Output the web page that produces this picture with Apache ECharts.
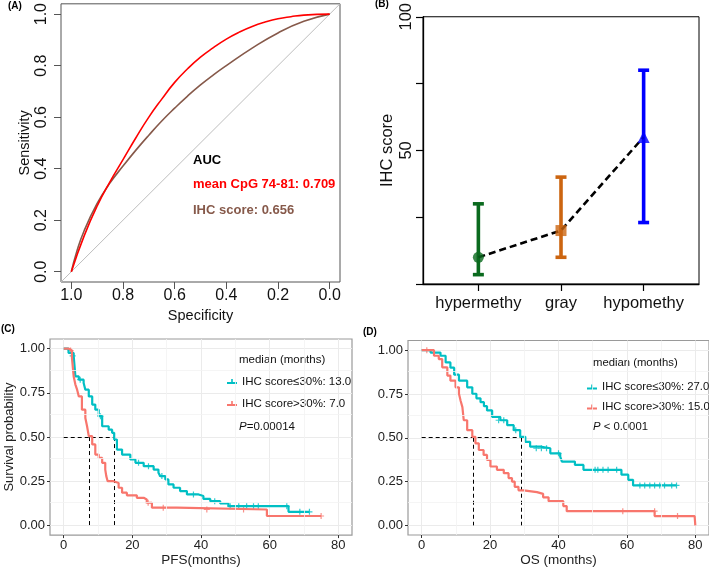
<!DOCTYPE html>
<html><head><meta charset="utf-8">
<script src="https://cdn.jsdelivr.net/npm/echarts@6/dist/echarts.min.js"></script>
<style>html,body{margin:0;padding:0;background:#fff}#c{width:709px;height:568px}</style>
</head><body><div id="c"></div>
<script>
// ---------- Panel A: ROC (specificity, sensitivity) ----------
const rocTicks = [0, 0.2, 0.4, 0.6, 0.8, 1.0];
const rocCpG = [[1,0],[0.95,0.14],[0.9,0.255],[0.85,0.35],[0.8,0.435],[0.75,0.52],[0.7,0.6],[0.65,0.67],[0.6,0.735],[0.55,0.788],[0.5,0.833],[0.45,0.87],[0.4,0.903],[0.35,0.93],[0.3,0.952],[0.25,0.969],[0.2,0.982],[0.15,0.99],[0.1,0.996],[0,1]];
const rocIHC = [[1,0],[0.98,0.075],[0.95,0.16],[0.9,0.265],[0.85,0.345],[0.8,0.41],[0.75,0.472],[0.7,0.53],[0.65,0.585],[0.6,0.635],[0.55,0.682],[0.5,0.725],[0.45,0.764],[0.4,0.8],[0.3,0.868],[0.2,0.927],[0.1,0.972],[0,1]];
const rocRef = [[1.04,-0.04],[-0.04,1.04]];
const aucTexts = ['AUC', 'mean CpG 74-81: 0.709', 'IHC score: 0.656'];

// ---------- Panel B: IHC score by group ----------
const groupsB = ['hypermethy', 'gray', 'hypomethy'];
const posB = [1, 2, 3];
const meanB = [10, 20, 55];
const lowB = [3.5, 10, 23];
const highB = [30, 40, 80];
const yTicksB = [50, 100];

// ---------- Panel C: PFS ----------
const kmTicksX = [0, 20, 40, 60, 80];
const kmTicksY = [0, 0.25, 0.5, 0.75, 1.0];
const kmMinorX = [10, 30, 50, 70];
const kmMinorY = [0.125, 0.375, 0.625, 0.875];
const namesC = ['IHC score\u226430%: 13.0', 'IHC score>30%: 7.0'];
const pfsLow = [[0,1],[1.4,0.976],[2.9,0.96],[3.4,0.843],[4.4,0.825],[5.8,0.806],[6.3,0.768],[7.3,0.73],[8.3,0.684],[9.2,0.655],[10.2,0.618],[11.2,0.561],[13.1,0.542],[14.1,0.524],[14.7,0.486],[15.5,0.429],[17,0.401],[19.4,0.373],[20.9,0.354],[23.3,0.335],[26.2,0.316],[27.6,0.298],[28.1,0.279],[29.6,0.26],[30.5,0.232],[32,0.213],[33.9,0.194],[35.9,0.175],[39.3,0.166],[40.7,0.15],[42.7,0.137],[45.6,0.124],[48,0.109],[65.5,0.077],[71.6,0.077]];
const pfsHigh = [[0,1],[1.5,0.99],[2.4,0.947],[2.9,0.843],[3.4,0.797],[3.9,0.768],[4.4,0.73],[5.3,0.655],[6.3,0.608],[6.8,0.561],[7.3,0.505],[8.3,0.458],[9.2,0.401],[10.2,0.382],[11.2,0.354],[12.1,0.316],[12.4,0.279],[12.8,0.25],[14.5,0.24],[16,0.213],[17,0.185],[18.4,0.17],[21.3,0.156],[23.3,0.147],[24.2,0.128],[25.7,0.10],[33,0.09],[59.2,0.053],[75,0.053]];
const pfsLowCens = [[2.6,0.96],[4.8,0.825],[10.7,0.618],[21.8,0.354],[24.7,0.335],[28.6,0.279],[37.8,0.175],[44,0.137],[48.5,0.109],[51,0.109],[53.3,0.109],[55.3,0.109],[56.7,0.109],[65,0.109],[68.8,0.077],[71.6,0.077]];
const pfsHighCens = [[2,0.99],[24.6,0.128],[29,0.10],[41.7,0.09],[52.4,0.09],[75,0.053]];
const pfsMedians = [7.5, 14.6];
const pText = 'P=0.00014';

// ---------- Panel D: OS ----------
const namesD = ['IHC score\u226430%: 27.0', 'IHC score>30%: 15.0'];
const osLow = [[0,1],[2.6,0.986],[5.5,0.968],[7,0.93],[8.4,0.90],[9.5,0.86],[10.9,0.826],[13.3,0.788],[14.8,0.751],[16,0.725],[17.2,0.703],[18.2,0.68],[19.1,0.656],[20.6,0.619],[23,0.60],[25,0.572],[26.9,0.543],[28.8,0.505],[30.3,0.477],[31.7,0.449],[34.7,0.44],[37.6,0.411],[40.5,0.392],[41,0.364],[44.8,0.345],[47.3,0.317],[58.4,0.289],[60.4,0.26],[61.8,0.228],[74.5,0.228]];
const osHigh = [[0,1],[1.2,1.0],[3.6,0.968],[5,0.949],[6,0.902],[7.5,0.855],[8.4,0.826],[9.9,0.788],[10.9,0.751],[11.4,0.71],[11.9,0.675],[12.3,0.60],[13.3,0.543],[14.8,0.505],[15.7,0.468],[16.7,0.43],[18.1,0.402],[19.1,0.373],[20.1,0.336],[22,0.317],[24,0.298],[25.4,0.27],[26.4,0.25],[27.2,0.22],[28.3,0.20],[29.8,0.19],[33.7,0.18],[35.5,0.16],[37.1,0.138],[41.4,0.11],[42.4,0.081],[68.1,0.053],[79.8,0.053],[80,0]];
const osLowCens = [[22.5,0.60],[24,0.60],[27.5,0.543],[33.5,0.44],[35,0.44],[36.5,0.44],[40,0.411],[50.7,0.317],[51.5,0.317],[53,0.317],[54.5,0.317],[57,0.317],[63.8,0.228],[65.2,0.228],[66.7,0.228],[68.1,0.228],[69.6,0.228],[71,0.228],[73.1,0.228],[74.5,0.228]];
const osHighCens = [[1.5,1.0],[58.8,0.081],[68.1,0.081],[74.8,0.053]];
const osMedians = [15, 29];
const pTextD = 'P < 0.0001';

const medianHeader = 'median (months)';
const panelLabels = ['(A)', '(B)', '(C)', '(D)'];

// ---------- styles ----------
const FONT = '"Liberation Sans", Arial, Helvetica, sans-serif';
const TEAL = '#00BFC4', SALMON = '#F8766D';
const RED = '#FF0000', BROWN = '#86594A';
const colorsB = ['#0A6A1E', '#CC6510', '#0000FF'];
const symbolsB = ['circle', 'rect', 'triangle'];
const symSizeB = [11, 11, 12];
const PLUS = 'path://M4,0h2v4h4v2h-4v4h-2v-4h-4v-2h4z';
const LEGICON = 'path://M0,5H4.2V2H5.8V5H10V7H0Z';

const chart = echarts.init(document.getElementById('c'), null, {renderer: 'canvas'});

function kmX(grid, name, gap) {
  return {
    gridIndex: grid, type: 'value', min: -4, max: 84,
    axisLine: {show: false, onZero: false},
    axisTick: {show: true, length: 3, customValues: kmTicksX, lineStyle: {color: '#333'}},
    axisLabel: {customValues: kmTicksX, fontSize: 13, color: '#222', fontFamily: FONT, margin: 4},
    splitLine: {show: true, lineStyle: {color: '#EBEBEB', width: 1}},
    name: name, nameLocation: 'middle', nameGap: gap,
    nameTextStyle: {fontSize: 13.5, color: '#222', fontFamily: FONT}
  };
}
function kmY(grid, name) {
  return {
    gridIndex: grid, type: 'value', min: -0.055, max: 1.055,
    axisLine: {show: false, onZero: false},
    axisTick: {show: true, length: 3, customValues: kmTicksY, lineStyle: {color: '#333'}},
    axisLabel: {customValues: kmTicksY, fontSize: 13, color: '#222', fontFamily: FONT, margin: 5,
      formatter: v => v.toFixed(2)},
    splitLine: {show: true, lineStyle: {color: '#EBEBEB', width: 1}},
    name: name, nameLocation: 'middle', nameGap: 33, nameRotate: 90,
    nameTextStyle: {fontSize: 13, color: '#222', fontFamily: FONT}
  };
}
function kmSeries(ax, names, low, high, lowC, highC, meds) {
  const segs = [
    {coords: [[0, 0.5], [meds[1], 0.5]]},
    {coords: [[meds[0], 0.5], [meds[0], 0]]},
    {coords: [[meds[1], 0.5], [meds[1], 0]]}
  ];
  return [
    {type: 'line', xAxisIndex: ax, yAxisIndex: ax, data: [], z: 1, silent: true,
      markLine: {silent: true, symbol: ['none', 'none'], label: {show: false},
        lineStyle: {color: '#F3F3F3', width: 0.8, type: 'solid'},
        data: kmMinorX.map(v => ({xAxis: v})).concat(kmMinorY.map(v => ({yAxis: v})))}},
    {type: 'line', name: names[0], xAxisIndex: ax, yAxisIndex: ax, data: low, step: 'end',
      showSymbol: false, symbol: 'none', color: TEAL, lineStyle: {color: TEAL, width: 2.2}},
    {type: 'line', name: names[1], xAxisIndex: ax, yAxisIndex: ax, data: high, step: 'end',
      showSymbol: false, symbol: 'none', color: SALMON, lineStyle: {color: SALMON, width: 2.2}},
    {type: 'scatter', name: 'cens-low-' + ax, xAxisIndex: ax, yAxisIndex: ax, data: lowC,
      symbol: PLUS, symbolSize: 6, itemStyle: {color: TEAL}},
    {type: 'scatter', name: 'cens-high-' + ax, xAxisIndex: ax, yAxisIndex: ax, data: highC,
      symbol: PLUS, symbolSize: 6, itemStyle: {color: SALMON}},
    {type: 'lines', coordinateSystem: 'cartesian2d', xAxisIndex: ax, yAxisIndex: ax, data: segs,
      lineStyle: {color: '#000', width: 1, type: [4, 3], opacity: 1}, z: 3}
  ];
}

function txt(x, y, text, size, color, weight) {
  return {type: 'text', x: x, y: y, style: {text: text, fill: color,
    font: (weight || 'normal') + ' ' + size + 'px ' + FONT, align: 'left', verticalAlign: 'middle'}};
}

const option = {
  animation: false,
  backgroundColor: '#fff',
  textStyle: {fontFamily: FONT},
  grid: [
    {left: 61, top: 3, width: 279, height: 279, show: true, borderColor: '#555', borderWidth: 1, backgroundColor: 'transparent'},
    {left: 423, top: 8, width: 276, height: 276, show: true, borderColor: '#000', borderWidth: 1, backgroundColor: 'transparent'},
    {left: 50, top: 339, width: 302, height: 197, show: true, borderColor: '#9A9A9A', borderWidth: 1.2, backgroundColor: 'transparent'},
    {left: 408, top: 340.5, width: 302, height: 194.5, show: true, borderColor: '#9A9A9A', borderWidth: 1.2, backgroundColor: 'transparent'}
  ],
  xAxis: [
    {gridIndex: 0, type: 'value', inverse: true, min: -0.04, max: 1.04,
      axisLine: {show: false, onZero: false},
      axisTick: {show: true, length: 7, customValues: rocTicks, lineStyle: {color: '#555'}},
      axisLabel: {customValues: rocTicks, formatter: v => v.toFixed(1), fontSize: 16, color: '#111', fontFamily: FONT, margin: 6},
      splitLine: {show: false},
      name: 'Specificity', nameLocation: 'middle', nameGap: 26,
      nameTextStyle: {fontSize: 14.5, color: '#111', fontFamily: FONT}},
    {gridIndex: 1, type: 'value', min: 0.33, max: 3.67,
      axisLine: {show: true, onZero: false, lineStyle: {color: '#000', width: 1.3}},
      axisTick: {show: true, length: 7, customValues: posB, lineStyle: {color: '#000', width: 1.2}},
      axisLabel: {customValues: posB, formatter: v => groupsB[Math.round(v) - 1], fontSize: 16.5, color: '#111', fontFamily: FONT, margin: 11},
      splitLine: {show: false}},
    kmX(2, 'PFS(months)', 17),
    kmX(3, 'OS (months)', 16)
  ],
  yAxis: [
    {gridIndex: 0, type: 'value', min: -0.04, max: 1.04,
      axisLine: {show: false, onZero: false},
      axisTick: {show: true, length: 7, customValues: rocTicks, lineStyle: {color: '#555'}},
      axisLabel: {customValues: rocTicks, formatter: v => v.toFixed(1), rotate: 90, fontSize: 16, color: '#111', fontFamily: FONT, margin: 11},
      splitLine: {show: false},
      name: 'Sensitivity', nameLocation: 'middle', nameGap: 29, nameRotate: 90,
      nameTextStyle: {fontSize: 14.5, color: '#111', fontFamily: FONT}},
    {gridIndex: 1, type: 'value', min: 0, max: 100, interval: 25,
      axisLine: {show: true, onZero: false, lineStyle: {color: '#000', width: 1.3}},
      axisTick: {show: true, length: 7, lineStyle: {color: '#000', width: 1.2}},
      axisLabel: {customValues: yTicksB, rotate: 90, fontSize: 16.5, color: '#111', fontFamily: FONT, margin: 8},
      splitLine: {show: false},
      name: 'IHC score', nameLocation: 'middle', nameGap: 27, nameRotate: 90,
      nameTextStyle: {fontSize: 16.5, color: '#111', fontFamily: FONT}},
    kmY(2, 'Survival probability'),
    kmY(3, '')
  ],
  legend: [
    {data: namesC, left: 222, top: 369.5, orient: 'vertical', itemGap: 8, itemWidth: 10, itemHeight: 5,
      icon: LEGICON, selectedMode: false,
      textStyle: {fontSize: 11.5, color: '#111', fontFamily: FONT, lineHeight: 14}},
    {data: namesD, left: 582, top: 375, orient: 'vertical', itemGap: 6, itemWidth: 10, itemHeight: 5,
      icon: LEGICON, selectedMode: false,
      textStyle: {fontSize: 11.3, color: '#111', fontFamily: FONT, lineHeight: 14}}
  ],
  series: [
    {type: 'line', xAxisIndex: 0, yAxisIndex: 0, data: rocRef, symbol: 'none', silent: true,
      lineStyle: {color: '#BDBDBD', width: 1}},
    {type: 'line', xAxisIndex: 0, yAxisIndex: 0, data: rocIHC, symbol: 'none', smooth: 0.5,
      lineStyle: {color: BROWN, width: 1.6}},
    {type: 'line', xAxisIndex: 0, yAxisIndex: 0, data: rocCpG, symbol: 'none', smooth: 0.5,
      lineStyle: {color: RED, width: 1.6}},
    {type: 'custom', xAxisIndex: 1, yAxisIndex: 1,
      data: posB.map((p, i) => [p, lowB[i], highB[i]]),
      renderItem: function (params, api) {
        const x = api.value(0), lo = api.value(1), hi = api.value(2);
        const a = api.coord([x, lo]), b = api.coord([x, hi]);
        const c = colorsB[params.dataIndex], w = 5.5;
        const st = {stroke: c, lineWidth: 3.6};
        return {type: 'group', children: [
          {type: 'line', shape: {x1: a[0], y1: a[1], x2: b[0], y2: b[1]}, style: st},
          {type: 'line', shape: {x1: a[0] - w, y1: a[1], x2: a[0] + w, y2: a[1]}, style: st},
          {type: 'line', shape: {x1: b[0] - w, y1: b[1], x2: b[0] + w, y2: b[1]}, style: st}
        ]};
      }},
    {type: 'line', xAxisIndex: 1, yAxisIndex: 1, data: posB.map((p, i) => [p, meanB[i]]), symbol: 'none',
      lineStyle: {color: '#000', width: 2.6, type: [7, 4]}, z: 3},
    {type: 'scatter', xAxisIndex: 1, yAxisIndex: 1, z: 4,
      data: posB.map((p, i) => ({value: [p, meanB[i]], symbol: symbolsB[i], symbolSize: symSizeB[i], itemStyle: {color: colorsB[i]}}))}
  ].concat(kmSeries(2, namesC, pfsLow, pfsHigh, pfsLowCens, pfsHighCens, pfsMedians))
   .concat(kmSeries(3, namesD, osLow, osHigh, osLowCens, osHighCens, osMedians)),
  graphic: [
    txt(8, 6, panelLabels[0], 10, '#000', 'bold'),
    txt(375, 4, panelLabels[1], 10, '#000', 'bold'),
    txt(1, 329, panelLabels[2], 10, '#000', 'bold'),
    txt(363, 332, panelLabels[3], 10, '#000', 'bold'),
    txt(193, 160, aucTexts[0], 13, '#000', 'bold'),
    txt(193, 184, aucTexts[1], 13, RED, 'bold'),
    txt(193, 210, aucTexts[2], 13, BROWN, 'bold'),
    txt(239, 360, medianHeader, 11.5, '#111'),
    {type: 'text', x: 239, y: 427, style: {text: '{i|' + pText.slice(0, 1) + '}' + pText.slice(1),
      font: '11.5px ' + FONT, fill: '#111', verticalAlign: 'middle',
      rich: {i: {fontStyle: 'italic', fontSize: 11.5, fontFamily: FONT, fill: '#111'}}}},
    txt(593, 362.5, medianHeader, 11.3, '#111'),
    {type: 'text', x: 593, y: 427, style: {text: '{i|' + pTextD.slice(0, 1) + '}' + pTextD.slice(1),
      font: '11.3px ' + FONT, fill: '#111', verticalAlign: 'middle',
      rich: {i: {fontStyle: 'italic', fontSize: 11.3, fontFamily: FONT, fill: '#111'}}}}
  ]
};
chart.setOption(option);
</script></body></html>
